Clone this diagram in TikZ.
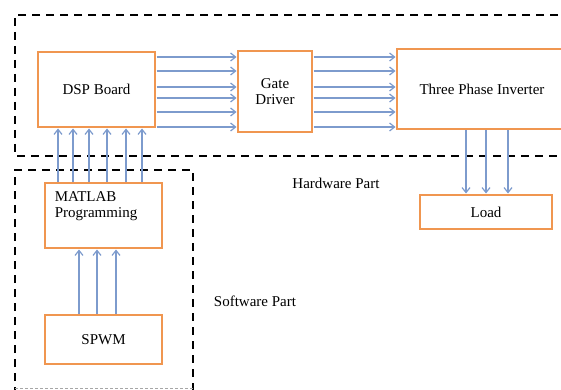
\documentclass[tikz,border=0pt]{standalone}
\usepackage{fontspec}
\setmainfont{Liberation Serif}
\usetikzlibrary{arrows.meta}
\definecolor{boxorange}{RGB}{240,150,80}
\definecolor{arrblue}{RGB}{125,155,205}
\tikzset{
  blk/.style={draw=boxorange, line width=2.6pt, fill=white},
  lbl/.style={font=\fontsize{15}{16.5}\selectfont, align=center, inner sep=0pt},
  sig/.style={draw=arrblue, line width=1.3pt, -{Straight Barb[length=5pt,width=8pt,line width=1.2pt]}},
  region/.style={draw=black, line width=2pt, dash pattern=on 8pt off 6pt},
}
\begin{document}
\begin{tikzpicture}[x=1pt,y=-1pt]
\useasboundingbox (0,0) rectangle (561,390);
\clip (0,0) rectangle (561,390);
% regions
\draw[region] (600,15) -- (15,15) -- (15,156) -- (600,156);
\draw[region] (15,395) -- (15,170) -- (193,170) -- (193,395);
\draw[draw=black!35, line width=1pt, dash pattern=on 3pt off 2pt] (15,388) -- (193,388);
% blocks
\draw[blk] (38,52) rectangle (155,127);
\node[lbl] (dsp) at (96.5,89.5) {DSP Board};
\draw[blk] (238,51) rectangle (312,132);
\node[lbl] (gate) at (275,91.5) {Gate\\Driver};
\draw[blk] (397,49) rectangle (580,129);
\node[lbl] (inv) at (482,89) {Three Phase Inverter};
\draw[blk] (420,195) rectangle (552,229);
\node[lbl] (load) at (486,212) {Load};
\draw[blk] (45,183) rectangle (162,248);
\node[lbl, align=left] (mat) at (96,206) {MATLAB\\Programming};
\draw[blk] (45,315) rectangle (162,364);
\node[lbl] (spwm) at (103.5,339.5) {SPWM};
% named anchor coordinates
\coordinate (dspE) at (156.5,0);
\coordinate (gateW) at (236.5,0);
\coordinate (gateE) at (313.5,0);
\coordinate (invW) at (395.5,0);
\coordinate (dspS) at (0,128.5);
\coordinate (matN) at (0,181.5);
\coordinate (matS) at (0,249.5);
\coordinate (spwmN) at (0,313.5);
\coordinate (invS) at (0,130.5);
\coordinate (loadN) at (0,193.5);
% arrows DSP -> Gate -> Inverter
\foreach \yy in {57,71,87,98,112,127}{
  \draw[sig] (dspE |- 0,\yy) -- (gateW |- 0,\yy);
  \draw[sig] (gateE |- 0,\yy) -- (invW |- 0,\yy);
}
% MATLAB -> DSP
\foreach \xx in {58,73,89,107,126,142}{
  \draw[sig] (\xx,0 |- matN) -- (\xx,0 |- dspS);
}
% SPWM -> MATLAB
\foreach \xx in {79,97,116}{
  \draw[sig] (\xx,0 |- spwmN) -- (\xx,0 |- matS);
}
% Inverter -> Load
\foreach \xx in {466,486,508}{
  \draw[sig] (\xx,0 |- invS) -- (\xx,0 |- loadN);
}
\node[lbl] (hw) at (336,183) {Hardware Part};
\node[lbl] (sw) at (255,301) {Software Part};
\end{tikzpicture}
\end{document}
